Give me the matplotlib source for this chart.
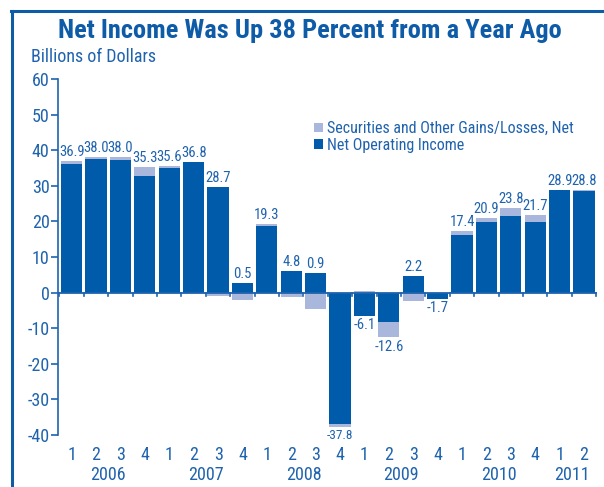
import matplotlib
matplotlib.use("Agg")
import matplotlib.pyplot as plt
from matplotlib.lines import Line2D
from matplotlib.patches import Patch
import numpy as np

# ---- data ----
quarters = ["1", "2", "3", "4"] * 5 + ["1", "2"]
years = ["2006", "2007", "2008", "2009", "2010", "2011"]
net_operating = [36.1, 37.5, 37.3, 32.8, 35.1, 36.6, 29.7, 2.6, 18.8, 6.1, 5.6,
                 -36.8, -6.6, -8.2, 4.7, -1.7, 16.3, 19.9, 21.6, 19.9, 28.9, 28.4]
securities = [0.8, 0.5, 0.7, 2.5, 0.5, 0.2, -1.0, -2.1, 0.5, -1.3, -4.7,
              -1.0, 0.5, -4.4, -2.5, 0.0, 1.1, 1.0, 2.2, 1.8, 0.0, 0.4]
yticks = [60, 50, 40, 30, 20, 10, 0, -10, -20, -30, -40]

DARK = "#005BAA"
LIGHT = "#A9B7DD"
TXT = "#1F63AE"
TITLE = "#0E5BA8"

plt.rcParams['font.family'] = ['Liberation Sans Narrow', 'Roboto Condensed', 'Liberation Sans', 'DejaVu Sans']

W, H = 604, 487
fig = plt.figure(figsize=(W / 100, H / 100), dpi=100)
ax = fig.add_axes([58 / W, 1 - 435 / H, (597 - 58) / W, (435 - 79) / H])

x = np.arange(len(net_operating))
noi = np.array(net_operating)
sec = np.array(securities)
same = np.sign(noi) == np.sign(sec)
sec_bottom = np.where(same, noi, 0.0)

bw = 0.87
ax.bar(x, noi, width=bw, color=DARK, zorder=2)
ax.bar(x, sec, bottom=sec_bottom, width=bw, color=LIGHT, zorder=2)

tops = np.maximum.reduce([np.zeros_like(noi), noi, sec_bottom + sec, sec_bottom])
bots = np.minimum.reduce([np.zeros_like(noi), noi, sec_bottom + sec, sec_bottom])
totals = noi + sec
for xi, t, tp, bt in zip(x, totals, tops, bots):
    lab = f"{t:.1f}"
    if t >= 0:
        ax.annotate(lab, (xi, tp), xytext=(0, 1.5), textcoords="offset points",
                    ha="center", va="bottom", color=TXT, fontsize=10.5, clip_on=False)
    else:
        ax.annotate(lab, (xi, bt), xytext=(0, -1.5), textcoords="offset points",
                    ha="center", va="top", color=TXT,
                    fontsize=10.5 if t > -30 else 9.5, clip_on=False)

ax.set_xlim(-0.56, len(x) - 1 + 0.53)
ax.set_ylim(-40, 60)
ax.set_yticks(yticks)
ax.set_yticklabels([str(v) for v in yticks])
ax.tick_params(axis="y", direction="out", length=5, width=1.2, colors=TXT,
               labelsize=13, pad=1)
ax.set_xticks([])
for s in ["top", "right", "bottom"]:
    ax.spines[s].set_visible(False)
ax.spines["left"].set_color(TXT)
ax.spines["left"].set_linewidth(1.2)

# zero axis with small ticks between bars
ax.axhline(0, color=TXT, lw=1.3, zorder=3)
for b in np.arange(-0.5, len(x), 1.0):
    ax.plot([b, b], [0, -1.0], color=TXT, lw=1.2, zorder=3, clip_on=False)

# quarter and year labels
trans = ax.get_xaxis_transform()
for xi, q in zip(x, quarters):
    ax.text(xi, -20 / 356, q, transform=trans, ha="center", va="center",
            color=TXT, fontsize=13)
year_pos = [1.5, 5.5, 9.5, 13.5, 17.5, 20.5]
for xp, yr in zip(year_pos, years):
    ax.text(xp, -40 / 356, yr, transform=trans, ha="center", va="center",
            color=TXT, fontsize=13)

# legend
handles = [Patch(facecolor=LIGHT, edgecolor="none"), Patch(facecolor=DARK, edgecolor="none")]
leg = fig.legend(handles, ["Securities and Other Gains/Losses, Net", "Net Operating Income"],
                 loc="upper left", bbox_to_anchor=(314 / W, 1 - 121 / H), frameon=False,
                 handlelength=0.55, handleheight=0.55, handletextpad=0.25,
                 labelspacing=0.1, fontsize=11.5, borderpad=0, borderaxespad=0)
for t in leg.get_texts():
    t.set_color(TXT)

# title & unit label
fig.text(310 / W, 1 - 31 / H, "Net Income Was Up 38 Percent from a Year Ago",
         ha="center", va="center", color=TITLE, fontsize=19, fontweight="bold")
fig.text(31 / W, 1 - 57 / H, "Billions of Dollars", ha="left", va="center",
         color=TXT, fontsize=13)

# frame
fig.add_artist(Line2D([12 / W, 12 / W], [0, 1 - 11 / H], transform=fig.transFigure,
                      color=TITLE, lw=2.2))
fig.add_artist(Line2D([11 / W, 1], [1 - 11 / H, 1 - 11 / H], transform=fig.transFigure,
                      color=TITLE, lw=2.2))

fig.savefig("out.png", dpi=100)
